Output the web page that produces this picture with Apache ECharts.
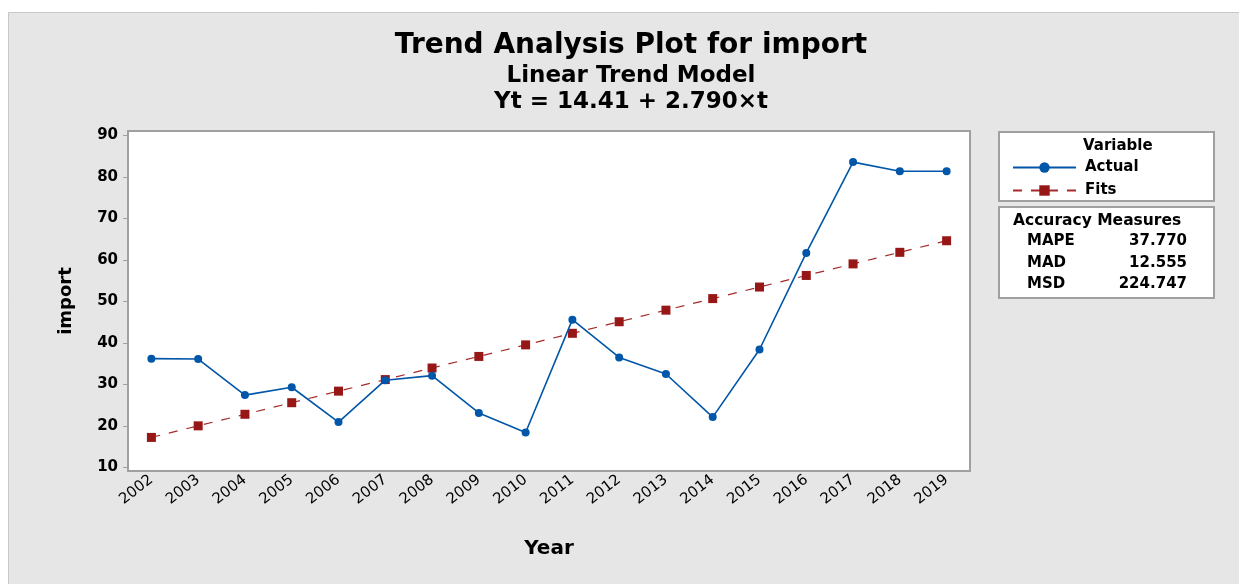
<!DOCTYPE html>
<html><head><meta charset="utf-8">
<script src="https://cdn.jsdelivr.net/npm/echarts@6/dist/echarts.min.js"></script>
<style>html,body{margin:0;padding:0;background:#fff}#c{width:1239px;height:584px}</style>
</head><body><div id="c"></div>
<script>
const years = ['2002','2003','2004','2005','2006','2007','2008','2009','2010','2011','2012','2013','2014','2015','2016','2017','2018','2019'];
const actual = [36.2, 36.1, 27.4, 29.3, 20.9, 31.0, 32.1, 23.1, 18.4, 45.6, 36.5, 32.5, 22.1, 38.4, 61.7, 83.6, 81.4, 81.4];
const fits = [17.20, 19.99, 22.78, 25.57, 28.36, 31.15, 33.94, 36.73, 39.52, 42.31, 45.10, 47.89, 50.68, 53.47, 56.26, 59.05, 61.84, 64.63];
const yTicks = [10, 20, 30, 40, 50, 60, 70, 80, 90];
const measures = [['MAPE', '37.770'], ['MAD', '12.555'], ['MSD', '224.747']];

const FONT = 'DejaVu Sans';
const chart = echarts.init(document.getElementById('c'), null, {renderer: 'canvas'});
const measureTexts = [];
measures.forEach((m, i) => {
  measureTexts.push({type: 'text', left: 1027, top: 234 + i * 21.5, z: 10,
    style: {text: m[0], font: 'bold 15px "' + FONT + '"', fill: '#000'}});
  measureTexts.push({type: 'text', right: 1239 - 1187, top: 234 + i * 21.5, z: 10,
    style: {text: m[1], font: 'bold 15px "' + FONT + '"', fill: '#000', textAlign: 'right'}});
});
chart.setOption({
  backgroundColor: '#fff',
  animation: false,
  textStyle: {fontFamily: FONT},
  title: [
    {text: 'Trend Analysis Plot for import', left: 626, top: 27, textAlign: 'center',
      textStyle: {fontSize: 28, fontWeight: 'bold', color: '#000', fontFamily: FONT}},
    {text: 'Linear Trend Model', left: 626, top: 60, textAlign: 'center',
      textStyle: {fontSize: 23, fontWeight: 'bold', color: '#000', fontFamily: FONT}},
    {text: 'Yt = 14.41 + 2.790×t', left: 626, top: 86, textAlign: 'center',
      textStyle: {fontSize: 23, fontWeight: 'bold', color: '#000', fontFamily: FONT}}
  ],
  graphic: [
    {type: 'rect', left: 8, top: 12, z: -10, shape: {width: 1231, height: 572},
      style: {fill: '#e6e6e6', stroke: '#c8c8c8', lineWidth: 1}},
    {type: 'rect', left: 998, top: 131, z: 0, shape: {width: 215, height: 69},
      style: {fill: '#fff', stroke: '#a0a0a0', lineWidth: 2}},
    {type: 'rect', left: 998, top: 206, z: 0, shape: {width: 215, height: 91},
      style: {fill: '#fff', stroke: '#a0a0a0', lineWidth: 2}},
    {type: 'text', left: 1083, top: 139, z: 10,
      style: {text: 'Variable', font: 'bold 15px "' + FONT + '"', fill: '#000'}},
    {type: 'text', left: 1013, top: 213, z: 10,
      style: {text: 'Accuracy Measures', font: 'bold 15.5px "' + FONT + '"', fill: '#000'}},
    ...measureTexts
  ],
  legend: {
    left: 1007, top: 155, orient: 'vertical', itemWidth: 63, itemHeight: 13, itemGap: 8,
    textStyle: {fontSize: 15, fontWeight: 'bold', color: '#000', fontFamily: FONT, padding: [0, 0, 0, 4]},
    data: ['Actual', 'Fits']
  },
  grid: {left: 128, right: 269, top: 131, bottom: 113, show: true,
    backgroundColor: '#fff', borderColor: '#a0a0a0', borderWidth: 2},
  xAxis: {
    type: 'category', data: years, boundaryGap: true,
    name: 'Year', nameLocation: 'middle', nameGap: 68,
    nameTextStyle: {fontSize: 20, fontWeight: 'bold', color: '#000', fontFamily: FONT},
    axisLine: {lineStyle: {color: '#a0a0a0', width: 2}},
    axisTick: {alignWithLabel: true, length: 5, lineStyle: {color: '#a0a0a0', width: 1}},
    axisLabel: {rotate: 38, fontSize: 15, color: '#000', margin: 7, interval: 0, fontFamily: FONT}
  },
  yAxis: {
    type: 'value', min: 9.1, max: 91.1,
    name: 'import', nameLocation: 'middle', nameGap: 53, nameRotate: 90,
    nameTextStyle: {fontSize: 18, fontWeight: 'bold', color: '#000', fontFamily: FONT},
    splitLine: {show: false},
    axisLine: {show: true, lineStyle: {color: '#a0a0a0', width: 2}},
    axisTick: {show: true, length: 5, customValues: yTicks, lineStyle: {color: '#a0a0a0'}},
    axisLabel: {customValues: yTicks, fontSize: 15, fontWeight: 'bold', color: '#000', margin: 10, fontFamily: FONT}
  },
  series: [
    {name: 'Actual', type: 'line', data: actual, symbol: 'circle', symbolSize: 8,
      itemStyle: {color: '#0056a8'}, lineStyle: {color: '#0056a8', width: 1.6}, z: 3},
    {name: 'Fits', type: 'line', data: fits, symbol: 'rect', symbolSize: 9,
      itemStyle: {color: '#971616'}, lineStyle: {color: '#a52a2a', width: 1.2, type: [9, 9]}, z: 2}
  ]
});
</script></body></html>
